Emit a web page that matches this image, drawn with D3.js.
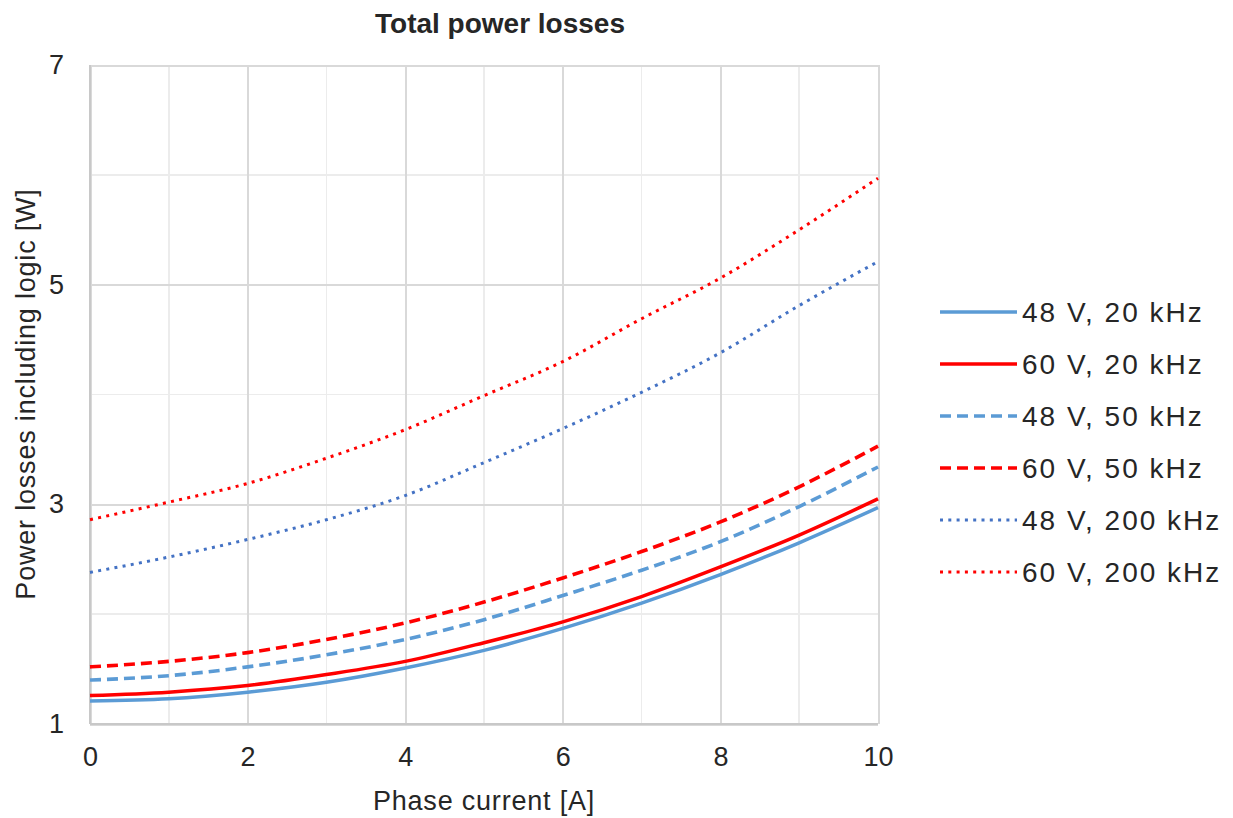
<!DOCTYPE html>
<html lang="en">
<head>
<meta charset="utf-8">
<script src="https://d3js.org/d3.v7.min.js"></script>
<style>
  body { margin: 0; background: #fff; }
  svg text { font-family: "Liberation Sans", Arial, sans-serif; fill: #262626; }
  .grid line { shape-rendering: crispEdges; }
</style>
</head>
<body>
<svg width="1233" height="818"></svg>
<script>
  // phase current [A]
  var current = [0, 1, 2, 3, 4, 5, 6, 7, 8, 9, 10];
  // power losses [W]
  var v48f20 = [1.21, 1.23, 1.29, 1.38, 1.51, 1.67, 1.87, 2.10, 2.36, 2.65, 2.97];
  var v60f20 = [1.26, 1.29, 1.35, 1.45, 1.57, 1.74, 1.93, 2.16, 2.43, 2.72, 3.05];
  var v48f50 = [1.40, 1.44, 1.52, 1.63, 1.77, 1.95, 2.17, 2.40, 2.66, 2.98, 3.34];
  var v60f50 = [1.52, 1.57, 1.65, 1.77, 1.92, 2.11, 2.33, 2.57, 2.84, 3.16, 3.53];
  var v48f200 = [2.38, 2.52, 2.68, 2.86, 3.08, 3.38, 3.69, 4.02, 4.38, 4.81, 5.21];
  var v60f200 = [2.86, 3.02, 3.19, 3.42, 3.68, 3.99, 4.30, 4.69, 5.06, 5.50, 5.97];

  var names = ["48 V, 20 kHz", "60 V, 20 kHz", "48 V, 50 kHz", "60 V, 50 kHz", "48 V, 200 kHz", "60 V, 200 kHz"];
  var xTicks = [0, 2, 4, 6, 8, 10];
  var yTicks = [1, 3, 5, 7];

  var series = [
    { name: names[0], values: v48f20, color: "#5b9bd5", width: 3.5, dash: null },
    { name: names[1], values: v60f20, color: "#ff0000", width: 3.5, dash: null },
    { name: names[2], values: v48f50, color: "#5b9bd5", width: 3.6, dash: "11,6" },
    { name: names[3], values: v60f50, color: "#ff0000", width: 3.6, dash: "11,6" },
    { name: names[4], values: v48f200, color: "#4472c4", width: 3, dash: "3,5.3" },
    { name: names[5], values: v60f200, color: "#ff0000", width: 3, dash: "3,5.3" }
  ];

  var svg = d3.select("svg");
  var plotLeft = 90, plotTop = 65, plotRight = 878, plotBottom = 724;
  var width = plotRight - plotLeft, height = plotBottom - plotTop;

  var x = d3.scaleLinear().domain([0, 10]).range([0, width]);
  var y = d3.scaleLinear().domain([1, 7]).range([height, 0]);

  var g = svg.append("g").attr("transform", "translate(" + plotLeft + "," + plotTop + ")");

  // minor grid (odd x, even y)
  g.append("g").attr("class", "grid")
    .selectAll("line").data(d3.range(1, 10, 2)).enter().append("line")
    .attr("x1", function (d) { return x(d); }).attr("x2", function (d) { return x(d); })
    .attr("y1", 0).attr("y2", height)
    .attr("stroke", "#ececec").attr("stroke-width", 1.5);
  g.append("g").attr("class", "grid")
    .selectAll("line").data([2, 4, 6]).enter().append("line")
    .attr("x1", 0).attr("x2", width)
    .attr("y1", function (d) { return y(d); }).attr("y2", function (d) { return y(d); })
    .attr("stroke", "#ececec").attr("stroke-width", 1.5);

  // major grid
  g.append("g").attr("class", "grid")
    .attr("transform", "translate(0," + height + ")")
    .call(d3.axisBottom(x).tickValues(xTicks).tickSize(-height).tickFormat(""))
    .call(function (s) { s.select(".domain").remove(); })
    .selectAll("line").attr("stroke", "#d9d9d9").attr("stroke-width", 2);
  g.append("g").attr("class", "grid")
    .call(d3.axisLeft(y).tickValues(yTicks).tickSize(-width).tickFormat(""))
    .call(function (s) { s.select(".domain").remove(); })
    .selectAll("line").attr("stroke", "#d9d9d9").attr("stroke-width", 2);

  // axis lines
  g.append("line").attr("x1", 0).attr("x2", 0).attr("y1", 0).attr("y2", height)
    .attr("stroke", "#c8c8c8").attr("stroke-width", 2);
  g.append("line").attr("x1", 0).attr("x2", width).attr("y1", height).attr("y2", height)
    .attr("stroke", "#c8c8c8").attr("stroke-width", 2);

  // tick labels
  g.append("g")
    .attr("transform", "translate(0," + height + ")")
    .call(d3.axisBottom(x).tickValues(xTicks).tickSize(0).tickPadding(23).tickFormat(d3.format("d")))
    .call(function (s) { s.select(".domain").remove(); })
    .selectAll("text").attr("fill", "#262626").style("font-size", "27px")
    .style("font-family", "'Liberation Sans', Arial, sans-serif");
  g.append("g")
    .call(d3.axisLeft(y).tickValues(yTicks).tickSize(0).tickPadding(26).tickFormat(d3.format("d")))
    .call(function (s) { s.select(".domain").remove(); })
    .selectAll("text").attr("fill", "#262626").style("font-size", "27px")
    .style("font-family", "'Liberation Sans', Arial, sans-serif");

  // lines
  var line = d3.line()
    .x(function (d, i) { return x(current[i]); })
    .y(function (d) { return y(d); })
    .curve(d3.curveMonotoneX);

  g.selectAll(".series").data(series).enter().append("path")
    .attr("class", "series")
    .attr("fill", "none")
    .attr("stroke", function (d) { return d.color; })
    .attr("stroke-width", function (d) { return d.width; })
    .attr("stroke-dasharray", function (d) { return d.dash; })
    .attr("d", function (d) { return line(d.values); });

  // title and axis titles
  svg.append("text")
    .attr("x", 500).attr("y", 33)
    .attr("text-anchor", "middle")
    .style("font-size", "28px").style("font-weight", "bold")
    .text("Total power losses");
  svg.append("text")
    .attr("x", 484).attr("y", 810)
    .attr("text-anchor", "middle")
    .style("font-size", "27px").style("letter-spacing", "0.8px")
    .text("Phase current [A]");
  svg.append("text")
    .attr("transform", "translate(35,394) rotate(-90)")
    .attr("text-anchor", "middle")
    .style("font-size", "27px").style("letter-spacing", "0.8px")
    .text("Power losses including logic [W]");

  // legend
  var legend = svg.append("g").selectAll("g").data(series).enter().append("g")
    .attr("transform", function (d, i) { return "translate(940," + (312 + i * 52) + ")"; });
  legend.append("line")
    .attr("x1", 0).attr("x2", 77).attr("y1", 0).attr("y2", 0)
    .attr("stroke", function (d) { return d.color; })
    .attr("stroke-width", function (d) { return d.width; })
    .attr("stroke-dasharray", function (d) { return d.dash; });
  legend.append("text")
    .attr("x", 82).attr("y", 10)
    .style("font-size", "28px").style("letter-spacing", "2px")
    .text(function (d) { return d.name; });
</script>
</body>
</html>
